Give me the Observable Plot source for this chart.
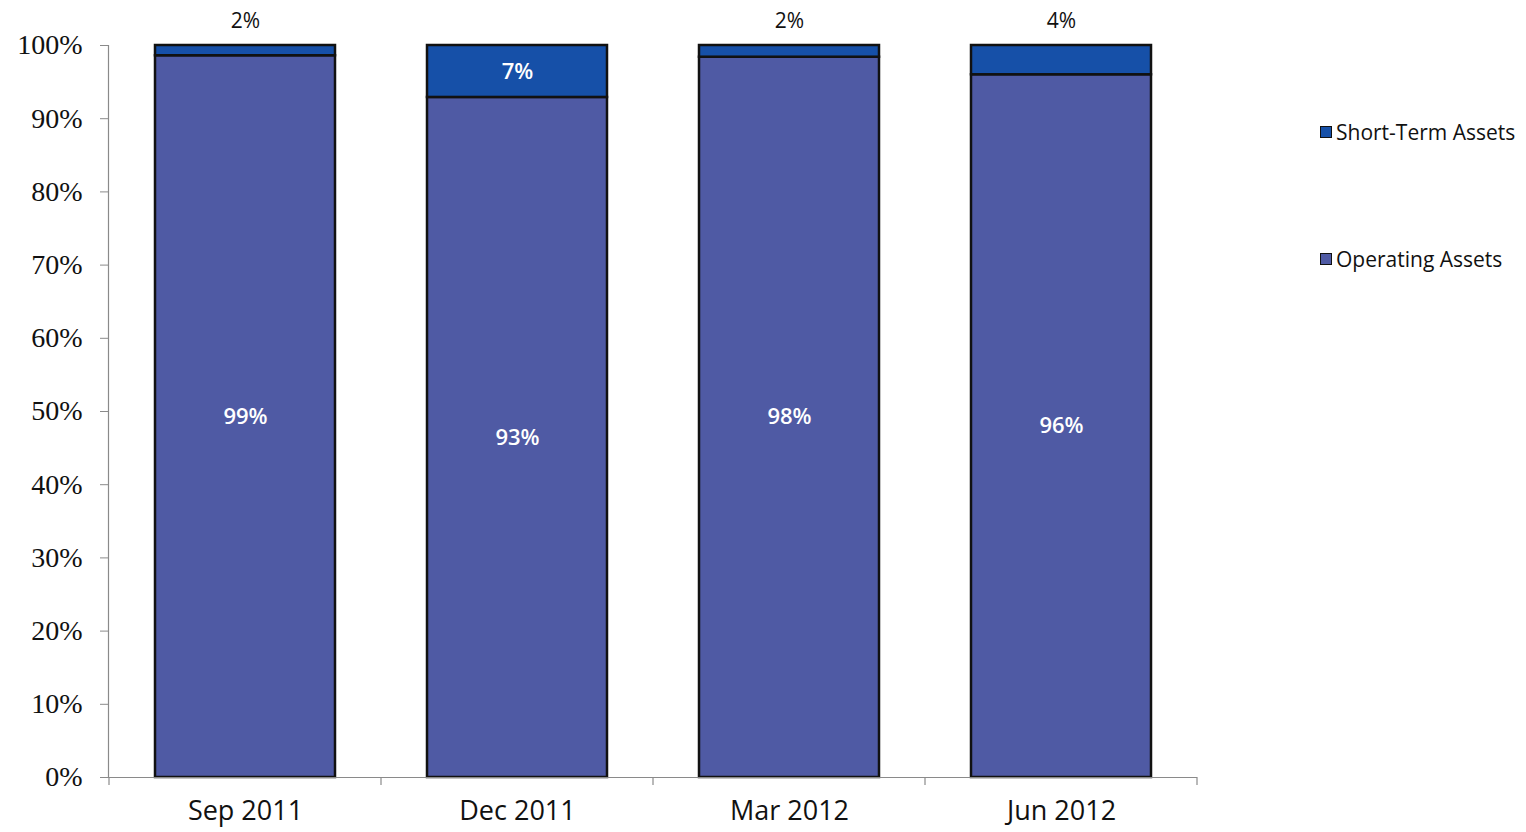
<!DOCTYPE html>
<html><head><meta charset="utf-8">
<script src="https://cdn.jsdelivr.net/npm/d3@7"></script>
<script src="https://cdn.jsdelivr.net/npm/@observablehq/plot@0.6"></script>
<style>
html,body{margin:0;padding:0;background:#fff;overflow:hidden;}
#wrap{position:relative;width:1526px;height:832px;}
.legend{position:absolute;left:1320px;font-family:"Open Sans",sans-serif;font-size:21px;line-height:28px;color:#111;display:flex;align-items:center;white-space:nowrap;}
.legend .sw{width:10px;height:10px;border:1.5px solid #111;margin-right:4px;}
</style></head><body><div id="wrap"></div>
<script>
const periods = ["Sep 2011", "Dec 2011", "Mar 2012", "Jun 2012"];
const operatingAssets = [98.6, 92.9, 98.4, 96.0];
const shortTermAssets = [1.4, 7.1, 1.6, 4.0];
const operatingLabels = ["99%", "93%", "98%", "96%"];
const shortTermLabels = ["2%", "7%", "2%", "4%"];
const seriesNames = ["Operating Assets", "Short-Term Assets"];
const seriesColors = ["#4f5aa4", "#1650a8"];
const yTicks = [0, 0.1, 0.2, 0.3, 0.4, 0.5, 0.6, 0.7, 0.8, 0.9, 1];

const rows = periods.flatMap((p, i) => [
  {period: p, series: seriesNames[0], value: operatingAssets[i], label: operatingLabels[i]},
  {period: p, series: seriesNames[1], value: shortTermAssets[i], label: shortTermLabels[i]}
]);
const inside = d => d.series === seriesNames[0] || d.value >= 5;

const stackOpts = {x: "period", y: "value", z: "series", order: seriesNames, offset: "normalize"};

function boundaryTicks(index, scales, values, dims) {
  const x = scales.x;
  const step = x.step(), bw = x.bandwidth();
  const half = (step - bw) / 2;
  const bounds = periods.map(p => x(p) - half).concat([x(periods[periods.length - 1]) + bw + half]);
  const y0 = dims.height - dims.marginBottom;
  const g = d3.create("svg:g");
  g.selectAll("line").data(bounds).join("line")
    .attr("x1", d => d).attr("x2", d => d)
    .attr("y1", y0).attr("y2", y0 + 8)
    .attr("stroke", "#8a8a8a").attr("stroke-width", 1.2);
  return g.node();
}

const plot = Plot.plot({
  width: 1526,
  height: 832,
  marginLeft: 108,
  marginRight: 329,
  marginTop: 45,
  marginBottom: 55,
  style: {background: "#fff", color: "#111"},
  x: {domain: periods, paddingInner: 0.34, paddingOuter: 0.17, label: null},
  y: {domain: [0, 1], label: null},
  color: {domain: seriesNames, range: seriesColors},
  marks: [
    Plot.barY(rows, {...stackOpts, fill: "series", stroke: "#111", strokeWidth: 2.5}),
    Plot.frame({anchor: "left", stroke: "#8a8a8a", strokeWidth: 1.2}),
    Plot.ruleY([0], {stroke: "#8a8a8a", strokeWidth: 1.2}),
    Plot.axisY({ticks: yTicks, tickFormat: d3.format(".0%"), tickSize: 8, tickPadding: 18,
      fontFamily: "Liberation Serif", fontSize: 28, stroke: "#8a8a8a", fill: "#111"}),
    Plot.axisX({tickSize: 0, tickPadding: 23, fontFamily: "Open Sans", fontSize: 27, fill: "#111"}),
    boundaryTicks,
    Plot.text(rows, Plot.stackY({...stackOpts, text: d => inside(d) ? d.label : null,
      fill: "white", fontFamily: "Open Sans", fontSize: 22, fontWeight: 600})),
    Plot.text(rows, Plot.stackY2({...stackOpts, text: d => inside(d) ? null : d.label,
      dy: -24, fill: "#111", fontFamily: "Open Sans", fontSize: 21}))
  ]
});

const wrap = document.getElementById("wrap");
wrap.appendChild(plot);

const legendRows = [
  {name: seriesNames[1], color: seriesColors[1], center: 132},
  {name: seriesNames[0], color: seriesColors[0], center: 259}
];
for (const r of legendRows) {
  const div = document.createElement("div");
  div.className = "legend";
  div.style.top = (r.center - 14) + "px";
  const sw = document.createElement("span");
  sw.className = "sw";
  sw.style.background = r.color;
  const t = document.createElement("span");
  t.textContent = r.name;
  div.appendChild(sw);
  div.appendChild(t);
  wrap.appendChild(div);
}
</script>
</body></html>
